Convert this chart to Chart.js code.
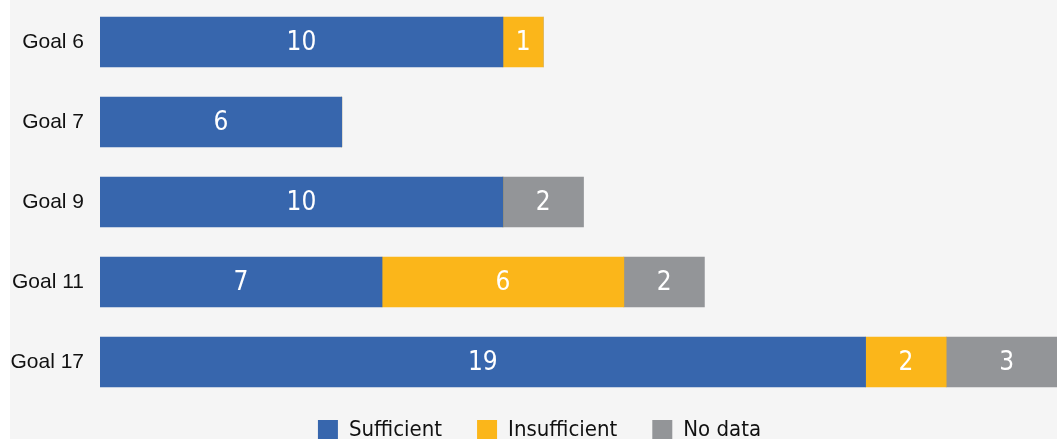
<!DOCTYPE html>
<html>
<head>
<meta charset="utf-8">
<script src="https://cdn.jsdelivr.net/npm/chart.js@4"></script>
<style>
  html, body { margin: 0; padding: 0; background: #ffffff; overflow: hidden; }
  #wrap { position: absolute; left: 10px; top: 0; width: 1047px; height: 469px; background: #f5f5f5; }
</style>
</head>
<body>
<div id="wrap"><canvas id="myChart"></canvas></div>
<script>
// data
var goals = ['Goal 6', 'Goal 7', 'Goal 9', 'Goal 11', 'Goal 17'];
var sufficient = [10, 6, 10, 7, 19];
var insufficient = [1, 0, 0, 6, 2];
var noData = [0, 0, 2, 2, 3];

var narrow = "'Liberation Sans Narrow', 'DejaVu Sans Condensed', 'Liberation Sans', sans-serif";

// white value labels in the middle of each segment
var barValues = {
    id: 'barValues',
    afterDatasetsDraw: function (chart) {
        var ctx = chart.ctx;
        ctx.save();
        ctx.fillStyle = '#ffffff';
        ctx.font = '26px ' + narrow;
        ctx.textAlign = 'center';
        ctx.textBaseline = 'middle';
        chart.data.datasets.forEach(function (ds, i) {
            chart.getDatasetMeta(i).data.forEach(function (bar, j) {
                var v = ds.data[j];
                if (!v) return;
                ctx.fillText(String(v), (bar.x + bar.base) / 2, bar.y + 1);
            });
        });
        ctx.restore();
    }
};

// nudge the legend up closer to the bars
var legendShift = {
    id: 'legendShift',
    afterInit: function (chart) {
        var lg = chart.legend;
        var draw = lg.draw.bind(lg);
        lg.draw = function (area) {
            chart.ctx.save();
            chart.ctx.translate(6, -18);
            draw(area);
            chart.ctx.restore();
        };
    }
};

var ctx = document.getElementById('myChart').getContext('2d');
var myChart = new Chart(ctx, {
    type: 'bar',
    data: {
        labels: goals,
        datasets: [{
            label: 'Sufficient',
            data: sufficient,
            backgroundColor: '#3766ad'
        }, {
            label: 'Insufficient',
            data: insufficient,
            backgroundColor: '#fbb61a'
        }, {
            label: 'No data',
            data: noData,
            backgroundColor: '#939598'
        }]
    },
    options: {
        indexAxis: 'y',
        responsive: true,
        maintainAspectRatio: false,
        animation: false,
        barThickness: 50,
        layout: { padding: { top: 2, left: 0, right: 0, bottom: 0 } },
        plugins: {
            tooltip: { enabled: false },
            legend: {
                position: 'bottom',
                labels: {
                    boxWidth: 20,
                    boxHeight: 20,
                    padding: 35,
                    color: '#111111',
                    font: { family: narrow, size: 22 }
                }
            }
        },
        scales: {
            x: {
                stacked: true,
                display: false,
                min: 0,
                max: 23.75
            },
            y: {
                stacked: true,
                grid: { display: false, drawTicks: false },
                border: { display: false },
                ticks: {
                    color: '#111111',
                    padding: 16,
                    font: { family: "'Liberation Sans', Arial, sans-serif", size: 21 }
                },
                afterFit: function (scale) {
                    scale.width = 90;
                    scale.paddingTop = 0;
                    scale.paddingBottom = 0;
                }
            }
        }
    },
    plugins: [barValues, legendShift]
});
</script>
</body>
</html>
